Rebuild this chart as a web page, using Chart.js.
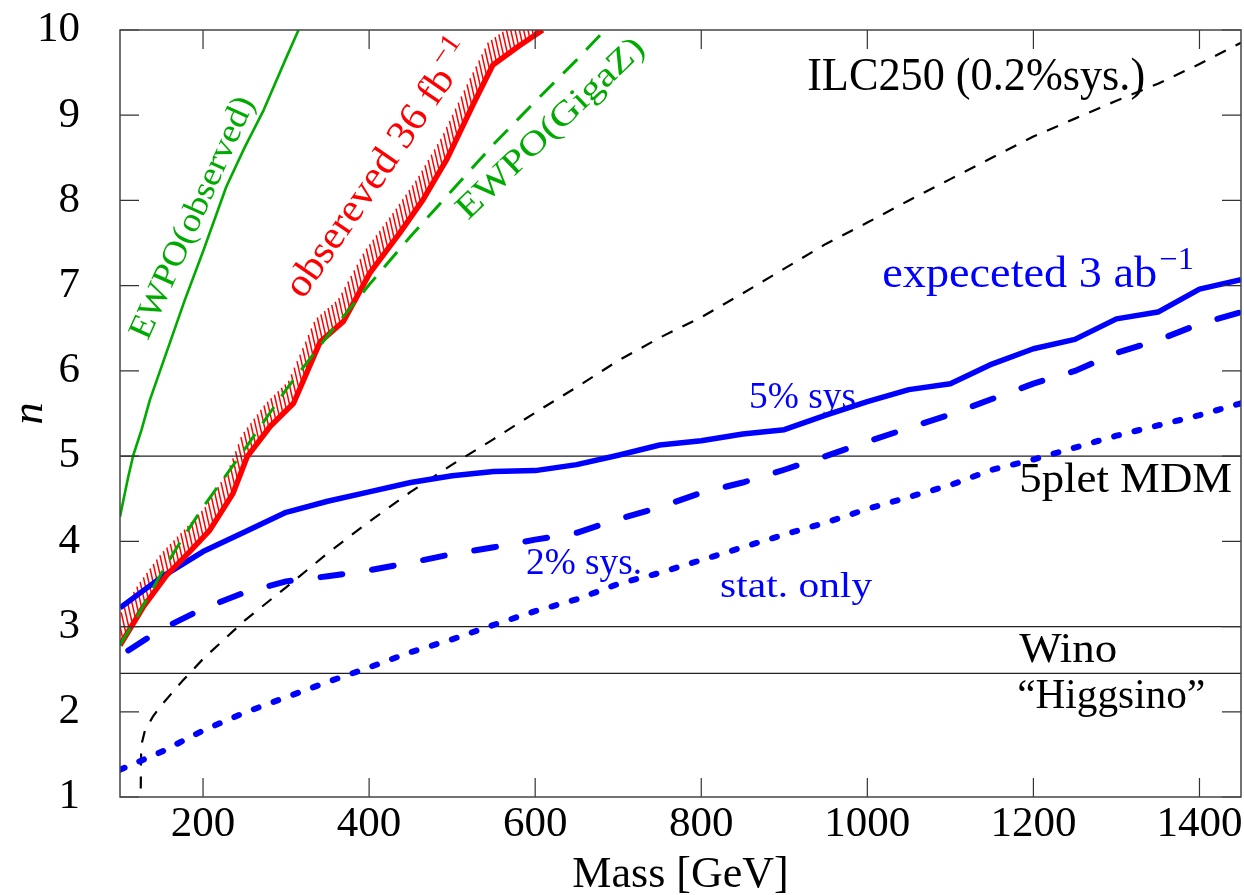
<!DOCTYPE html>
<html><head><meta charset="utf-8">
<script src="https://cdn.jsdelivr.net/npm/chart.js@4.4.1/dist/chart.umd.min.js"></script>
<style>html,body{margin:0;padding:0;background:#fff;}canvas{display:block;}</style>
</head><body>
<canvas id="c" width="1244" height="895"></canvas>
<script>
// ---------------- data ----------------
const xTickValues = [200, 400, 600, 800, 1000, 1200, 1400];
const yTickValues = [1, 2, 3, 4, 5, 6, 7, 8, 9, 10];

// multiplet reference levels (5plet MDM, Wino, "Higgsino")
const bandLevels = [5, 3, 2.45];

// expected 3 ab^-1, 5% sys (solid blue)
const massSys5 = [100,150,200,250,300,350,400,450,500,550,600,650,700,750,800,850,900,950,1000,1050,1100,1150,1200,1250,1300,1350,1400,1450];
const nSys5    = [3.22,3.58,3.88,4.11,4.34,4.47,4.58,4.69,4.77,4.82,4.83,4.90,5.01,5.13,5.18,5.26,5.31,5.48,5.64,5.78,5.85,6.08,6.26,6.37,6.61,6.69,6.96,7.07];

// 2% sys (dashed blue)
const massSys2 = [110,150,200,250,300,350,400,450,500,550,600,650,700,750,800,850,900,950,1000,1050,1100,1150,1200,1250,1300,1350,1400,1450];
const nSys2    = [2.72,2.97,3.21,3.40,3.53,3.59,3.66,3.75,3.85,3.93,4.02,4.10,4.26,4.40,4.57,4.69,4.84,5.00,5.17,5.33,5.49,5.67,5.85,6.00,6.21,6.36,6.55,6.69];

// stat. only (dotted blue)
const massStat = [100,150,200,250,300,350,400,450,500,550,600,650,700,750,800,850,900,950,1000,1050,1100,1150,1200,1250,1300,1350,1400,1450];
const nStat    = [1.32,1.53,1.78,1.99,2.17,2.35,2.52,2.70,2.85,3.02,3.18,3.32,3.50,3.63,3.78,3.93,4.08,4.22,4.38,4.52,4.66,4.84,4.96,5.10,5.24,5.36,5.48,5.62];

// ILC250 (0.2% sys.) (thin black dashed)
const massIlc = [125,125.5,130,140,150,175,200,250,300,350,400,450,500,550,600,650,700,750,800,850,900,950,1000,1050,1100,1150,1200,1250,1300,1350,1400,1450];
const nIlc    = [1.10,1.60,1.78,1.95,2.08,2.36,2.62,3.07,3.46,3.86,4.23,4.58,4.90,5.20,5.51,5.81,6.12,6.39,6.63,6.91,7.20,7.49,7.74,8.00,8.25,8.50,8.75,8.96,9.17,9.37,9.60,9.85];

// observed 36 fb^-1 (red)
const massObs = [100,128,156,184,208,236,253,281,309,341,369,401,437,465,494,526,549,580,609];
const nObs    = [2.78,3.23,3.60,3.88,4.13,4.56,4.99,5.35,5.62,6.34,6.58,7.15,7.62,8.01,8.49,9.14,9.59,9.81,10.0];

// EWPO (observed) (solid green)
const massEwpoObs = [100,104,110,116,126,136,150,178,200,228,250,273,300,315];
const nEwpoObs    = [4.29,4.48,4.76,5.01,5.31,5.66,6.05,6.83,7.40,8.16,8.62,9.06,9.67,10.0];

// EWPO (GigaZ) (dashed green)
const massEwpoZ = [100,125,150,175,200,250,300,350,400,450,500,550,600,650,684];
const nEwpoZ    = [2.78,3.19,3.63,4.03,4.40,5.08,5.78,6.41,7.01,7.58,8.12,8.66,9.16,9.65,10.0];

// ---------------- styling ----------------
const FAMILY = "'Liberation Serif', 'DejaVu Serif', serif";
const GREEN = '#00aa00', RED = '#ff0000', BLUE = '#0000ff', BLACK = '#000000';

function pts(xs, ys) { return xs.map((x, i) => ({ x: x, y: ys[i] })); }

const datasets = [];
bandLevels.forEach((lv, i) => datasets.push({
  label: 'band' + i, data: [{ x: 100, y: lv }, { x: 1450, y: lv }],
  borderColor: '#222', borderWidth: 1.2, order: 20
}));
datasets.push({ label: 'ILC250', data: pts(massIlc, nIlc), borderColor: BLACK, borderWidth: 2.2, borderDash: [12, 11], order: 15 });
datasets.push({ label: 'stat', data: pts(massStat, nStat), borderColor: BLUE, borderWidth: 6, borderDash: [5, 16], borderCapStyle: 'round', order: 14 });
datasets.push({ label: 'sys2', data: pts(massSys2, nSys2), borderColor: BLUE, borderWidth: 6, borderDash: [22, 30], borderCapStyle: 'round', order: 13 });
datasets.push({ label: 'sys5', data: pts(massSys5, nSys5), borderColor: BLUE, borderWidth: 5.5, order: 12 });
datasets.push({ label: 'obs36', data: pts(massObs, nObs), borderColor: RED, borderWidth: 5.5, order: 11 });
datasets.push({ label: 'ewpoZ', data: pts(massEwpoZ, nEwpoZ), borderColor: GREEN, borderWidth: 3, borderDash: [20, 13], order: 10 });
datasets.push({ label: 'ewpoObs', data: pts(massEwpoObs, nEwpoObs), borderColor: GREEN, borderWidth: 2.6, order: 9 });
datasets.forEach(d => { d.pointRadius = 0; d.fill = false; d.tension = 0; d.borderJoinStyle = 'round'; });

// text annotations (anchor in data coordinates)
const annotations = [
  { text: 'ILC250 (0.2%sys.)', x: 927.5, y: 9.30, size: 46, width: 338, color: BLACK },
  { text: 'expeceted 3 ab', sup: '\u22121', x: 1017.9, y: 6.985, size: 44, width: 275, color: BLUE },
  { text: '5% sys', x: 857.6, y: 5.565, size: 38, width: 107, color: BLUE },
  { text: '2% sys.', x: 589, y: 3.617, size: 38, width: 116, color: BLUE },
  { text: 'stat. only', x: 822.7, y: 3.35, size: 35, width: 152, color: BLUE },
  { text: '5plet MDM', x: 1182.9, y: 4.58, size: 42, width: 213, color: BLACK },
  { text: 'Wino', x: 1182.9, y: 2.588, size: 43, width: 98, color: BLACK },
  { text: '\u201cHiggsino\u201d', x: 1180.5, y: 2.044, size: 42, width: 188, color: BLACK },
  { text: 'EWPO(observed)', x: 186.6, y: 7.80, size: 34, width: 262, color: GREEN, angle: -65.9, center: true },
  { text: 'obsereved 36 fb', sup: '\u22121', x: 400.5, y: 8.211, size: 40, width: 269, color: RED, angle: -55.5, center: true },
  { text: 'EWPO(GigaZ)', x: 618, y: 8.85, size: 34, width: 247, color: GREEN, angle: -43.7, center: true }
];

function drawHatch(chart) {
  const idx = chart.data.datasets.findIndex(d => d.label === 'obs36');
  const meta = chart.getDatasetMeta(idx);
  const P = meta.data.map(e => ({ x: e.x, y: e.y }));
  const a = chart.chartArea, ctx = chart.ctx;
  let dx = -0.22, dy = -0.975; const dn = Math.hypot(dx, dy); dx /= dn; dy /= dn;
  const L = 23, gap = 4.2;
  ctx.save();
  ctx.beginPath(); ctx.rect(a.left, a.top, a.right - a.left, a.bottom - a.top); ctx.clip();
  ctx.strokeStyle = RED; ctx.lineWidth = 1.5;
  ctx.beginPath();
  let need = 0;
  for (let i = 0; i < P.length - 1; i++) {
    const sx = P[i + 1].x - P[i].x, sy = P[i + 1].y - P[i].y;
    const len = Math.hypot(sx, sy); if (len < 1e-6) continue;
    const ux = sx / len, uy = sy / len;
    const r = Math.abs(ux * dy - uy * dx);
    if (r < 1e-6) continue;
    let s = need / r;
    while (s <= len) {
      const px = P[i].x + ux * s, py = P[i].y + uy * s;
      ctx.moveTo(px, py); ctx.lineTo(px + dx * L, py + dy * L);
      s += gap / r;
    }
    need = (s - len) * r;
  }
  ctx.stroke();
  ctx.restore();
}

function drawFrame(chart) {
  const { ctx, chartArea: a, scales } = chart;
  const xs = scales.x, ys = scales.y, TL = 19;
  ctx.save();
  ctx.strokeStyle = '#333'; ctx.lineWidth = 1.2;
  ctx.beginPath();
  xs.ticks.forEach(t => {
    const p = xs.getPixelForValue(t.value);
    ctx.moveTo(p, a.bottom); ctx.lineTo(p, a.bottom - TL);
    ctx.moveTo(p, a.top); ctx.lineTo(p, a.top + TL);
  });
  ys.ticks.forEach(t => {
    const p = ys.getPixelForValue(t.value);
    ctx.moveTo(a.left, p); ctx.lineTo(a.left + TL, p);
    ctx.moveTo(a.right, p); ctx.lineTo(a.right - TL, p);
  });
  ctx.stroke();
  ctx.strokeStyle = '#444'; ctx.lineWidth = 1.5;
  ctx.strokeRect(a.left, a.top, a.right - a.left, a.bottom - a.top);
  ctx.restore();
}

function drawLabels(chart) {
  const ctx = chart.ctx, xs = chart.scales.x, ys = chart.scales.y;
  annotations.forEach(s => {
    const px = xs.getPixelForValue(s.x), py = ys.getPixelForValue(s.y);
    ctx.save();
    ctx.translate(px, py);
    if (s.angle) ctx.rotate(s.angle * Math.PI / 180);
    ctx.font = s.size + 'px ' + FAMILY;
    const w0 = ctx.measureText(s.text).width;
    const sx = s.width / w0;
    ctx.fillStyle = s.color;
    ctx.textBaseline = 'alphabetic';
    ctx.textAlign = 'left';
    let x0 = 0, y0 = 0;
    if (s.center) { x0 = -s.width / 2; y0 = 0.3 * s.size; }
    ctx.save();
    ctx.translate(x0, y0);
    ctx.scale(sx, 1);
    ctx.fillText(s.text, 0, 0);
    if (s.sup) {
      ctx.font = Math.round(s.size * 0.7) + 'px ' + FAMILY;
      ctx.fillText(s.sup, w0 + 2, -0.4 * s.size);
    }
    ctx.restore();
    ctx.restore();
  });
}

const framePlugin = {
  id: 'frame',
  beforeDatasetsDraw(chart) { drawHatch(chart); },
  afterDatasetsDraw(chart) { drawFrame(chart); drawLabels(chart); }
};

new Chart(document.getElementById('c'), {
  type: 'line',
  data: { datasets: datasets },
  options: {
    responsive: false, animation: false, devicePixelRatio: 1,
    layout: { padding: { top: 30, right: 3, left: 0, bottom: 0 } },
    plugins: { legend: { display: false }, tooltip: { enabled: false }, title: { display: false } },
    scales: {
      x: {
        type: 'linear', min: 100, max: 1450,
        afterBuildTicks: s => { s.ticks = xTickValues.map(v => ({ value: v })); },
        afterFit: s => { s.height = 98; s.paddingLeft = 0; s.paddingRight = 0; },
        grid: { display: false }, border: { display: false },
        ticks: { color: BLACK, font: { family: FAMILY, size: 43 }, padding: -6, maxRotation: 0, autoSkip: false,
                 callback: v => String(v) },
        title: { display: true, text: 'Mass [GeV]', color: BLACK, font: { family: FAMILY, size: 44 }, padding: { top: 0, bottom: -7 } }
      },
      y: {
        type: 'linear', min: 1, max: 10,
        afterBuildTicks: s => { s.ticks = yTickValues.map(v => ({ value: v })); },
        afterFit: s => { s.width = 120; s.paddingTop = 0; s.paddingBottom = 0; },
        grid: { display: false }, border: { display: false },
        ticks: { color: BLACK, font: { family: FAMILY, size: 43 }, padding: 32, autoSkip: false,
                 callback: v => String(v) },
        title: { display: true, text: 'n', color: BLACK, font: { family: FAMILY, size: 44, style: 'italic' }, padding: 4 }
      }
    }
  },
  plugins: [framePlugin]
});
</script>
</body></html>
